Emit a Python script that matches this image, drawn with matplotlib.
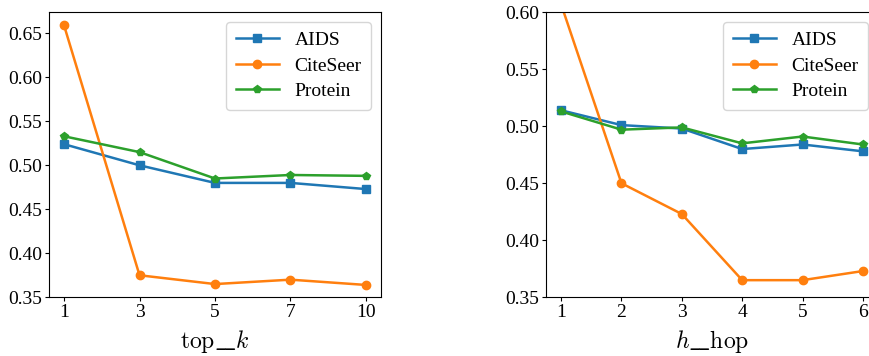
import matplotlib
matplotlib.use("Agg")
import matplotlib.pyplot as plt

plt.rcParams['font.family'] = ['Liberation Serif', 'DejaVu Serif']
plt.rcParams['mathtext.fontset'] = 'cm'

topk_labels = ["1", "3", "5", "7", "10"]
topk_aids = [0.524, 0.500, 0.480, 0.480, 0.473]
topk_citeseer = [0.659, 0.375, 0.365, 0.370, 0.364]
topk_protein = [0.533, 0.515, 0.485, 0.489, 0.488]

hop_values = [1, 2, 3, 4, 5, 6]
hop_aids = [0.514, 0.501, 0.498, 0.480, 0.484, 0.478]
hop_citeseer = [0.607, 0.450, 0.423, 0.365, 0.365, 0.373]
hop_protein = [0.513, 0.497, 0.499, 0.485, 0.491, 0.484]

series_names = ["AIDS", "CiteSeer", "Protein"]
colors = ["#1f77b4", "#ff7f0e", "#2ca02c"]
markers = ["s", "o", "p"]

fig = plt.figure(figsize=(8.7, 3.56), dpi=100)
ax1 = fig.add_axes([0.0563, 0.165, 0.3816, 0.8006])
ax2 = fig.add_axes([0.6276, 0.165, 0.3816, 0.8006])

fs = 14
idx = list(range(len(topk_labels)))
for name, data, c, m in zip(series_names, [topk_aids, topk_citeseer, topk_protein], colors, markers):
    ax1.plot(idx, data, color=c, marker=m, markersize=6, linewidth=1.8, label=name)
ax1.set_xticks(idx)
ax1.set_xticklabels(topk_labels)
ax1.set_ylim(0.35, 0.674)
ax1.set_yticks([0.35, 0.40, 0.45, 0.50, 0.55, 0.60, 0.65])
ax1.set_xlabel(r"$\mathrm{top\_\!\_}k$", fontsize=17, labelpad=5)

for name, data, c, m in zip(series_names, [hop_aids, hop_citeseer, hop_protein], colors, markers):
    ax2.plot(hop_values, data, color=c, marker=m, markersize=6, linewidth=1.8, label=name)
ax2.set_xticks(hop_values)
ax2.set_ylim(0.35, 0.60)
ax2.set_yticks([0.35, 0.40, 0.45, 0.50, 0.55, 0.60])
ax2.set_xlabel(r"$h\mathrm{\_\!\_hop}$", fontsize=17, labelpad=5)

for ax in (ax1, ax2):
    ax.tick_params(labelsize=fs, pad=2, length=3)
    ax.yaxis.set_major_formatter(matplotlib.ticker.FormatStrFormatter('%.2f'))
    ax.legend(loc='upper right', fontsize=fs, handlelength=2.2, borderpad=0.5, labelspacing=0.4)

fig.savefig("out.png", dpi=100)
